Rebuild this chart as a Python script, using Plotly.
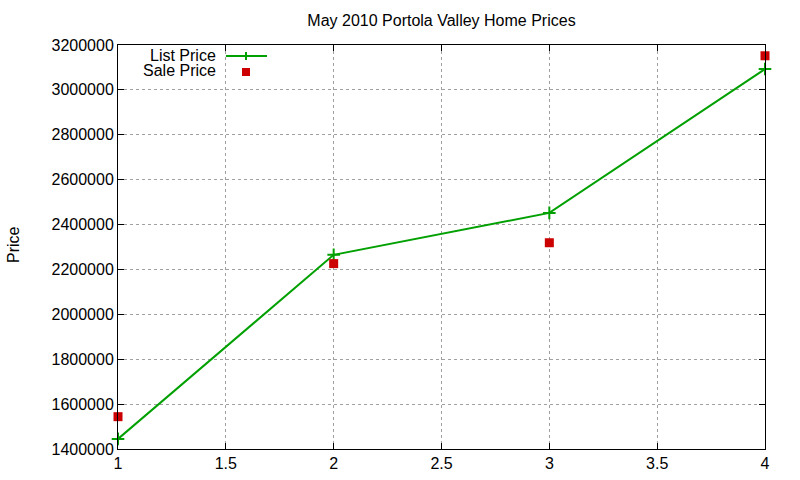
import plotly.graph_objects as go

# === Data ===
rank = [1, 2, 3, 4]
list_price = [1445000, 2265000, 2452000, 3093000]
sale_price = [1544000, 2226000, 2319000, 3152000]

x_ticks = [1, 1.5, 2, 2.5, 3, 3.5, 4]
y_ticks = list(range(1400000, 3200001, 200000))

GREEN = "#00a000"
RED = "#cc0000"
FONT = "Liberation Sans, Arial, sans-serif"
FS = 16

# plot area in pixels (800x480 canvas)
L, R, T, B = 118, 765, 45, 449


def px(x):
    return (x - L) / (R - L)


def py(y):
    return (B - y) / (B - T)


list_trace = go.Scatter(
    x=rank, y=list_price, mode="lines+markers", name="List Price",
    line=dict(color=GREEN, width=2),
    marker=dict(symbol="cross-thin", size=9, line=dict(color=GREEN, width=2)),
    cliponaxis=False, showlegend=False,
)
sale_trace = go.Scatter(
    x=rank, y=sale_price, mode="markers", name="Sale Price",
    marker=dict(symbol="square", size=9, color=RED),
    cliponaxis=False, showlegend=False,
)

# gnuplot-style legend: text on the left, key on the right
legend_shapes = [
    dict(type="line", xref="paper", yref="paper",
         x0=px(226), x1=px(267), y0=py(56), y1=py(56),
         line=dict(color=GREEN, width=2)),
    dict(type="line", xref="paper", yref="paper",
         x0=px(246), x1=px(246), y0=py(52), y1=py(60),
         line=dict(color=GREEN, width=2)),
    dict(type="rect", xref="paper", yref="paper",
         x0=px(242), x1=px(250), y0=py(68), y1=py(76),
         fillcolor=RED, line=dict(width=0)),
]
annotations = [
    dict(text="List Price", x=px(218), y=py(55), xref="paper", yref="paper",
         xanchor="right", yanchor="middle", showarrow=False,
         font=dict(size=FS, color="black", family=FONT)),
    dict(text="Sale Price", x=px(218), y=py(71), xref="paper", yref="paper",
         xanchor="right", yanchor="middle", showarrow=False,
         font=dict(size=FS, color="black", family=FONT)),
    dict(text="Price", x=px(13), y=py(245), xref="paper", yref="paper",
         xanchor="center", yanchor="middle", textangle=-90, showarrow=False,
         font=dict(size=FS, color="black", family=FONT)),
]

axis_style = dict(
    showline=True, linecolor="black", linewidth=1, mirror="allticks",
    ticks="inside", ticklen=6, tickcolor="black", automargin=False,
    showgrid=True, gridcolor="#a0a0a0", griddash="dot", gridwidth=1,
    zeroline=False, tickfont=dict(size=FS, color="black", family=FONT),
)

fig = go.Figure(data=[list_trace, sale_trace])
fig.update_layout(
    width=800, height=480,
    paper_bgcolor="white", plot_bgcolor="white",
    margin=dict(l=L, r=800 - R, t=T, b=480 - B),
    title=dict(text="May 2010 Portola Valley Home Prices", x=(L + R) / 2 / 800,
               xanchor="center", y=1 - 20 / 480, yanchor="middle",
               font=dict(size=FS, color="black", family=FONT)),
    xaxis=dict(range=[1, 4], tickvals=x_ticks, ticktext=[f"{v:g}" for v in x_ticks], **axis_style),
    yaxis=dict(range=[1400000, 3200000], tickvals=y_ticks,
               ticktext=[str(v) for v in y_ticks], **axis_style),
    shapes=legend_shapes,
    annotations=annotations,
    showlegend=False,
)

fig.write_html("out.html", config={"displayModeBar": False},
               post_script="document.body.style.margin='0';")
